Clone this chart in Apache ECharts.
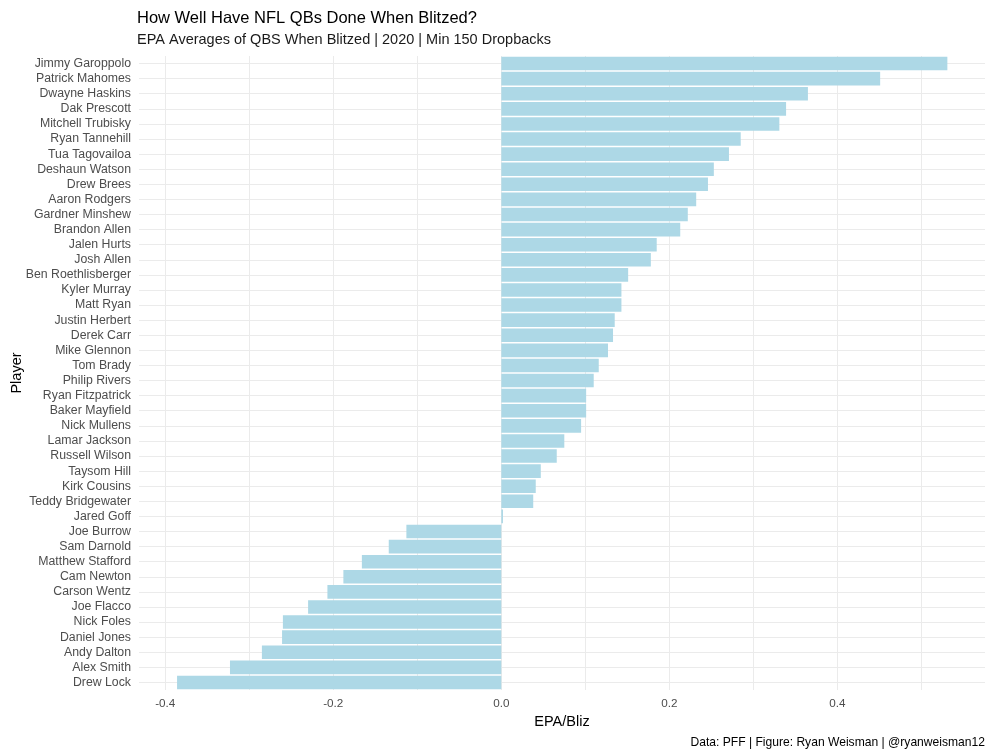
<!DOCTYPE html>
<html>
<head>
<meta charset="utf-8">
<script src="https://cdn.jsdelivr.net/npm/echarts@6/dist/echarts.min.js"></script>
<style>
html,body{margin:0;padding:0;background:#fff;}
#chart{width:993px;height:756px;}
</style>
</head>
<body>
<div id="chart"></div>
<script>
// Players listed bottom (lowest) to top (highest)
const players = [
  "Drew Lock","Alex Smith","Andy Dalton","Daniel Jones","Nick Foles","Joe Flacco",
  "Carson Wentz","Cam Newton","Matthew Stafford","Sam Darnold","Joe Burrow","Jared Goff",
  "Teddy Bridgewater","Kirk Cousins","Taysom Hill","Russell Wilson","Lamar Jackson",
  "Nick Mullens","Baker Mayfield","Ryan Fitzpatrick","Philip Rivers","Tom Brady",
  "Mike Glennon","Derek Carr","Justin Herbert","Matt Ryan","Kyler Murray",
  "Ben Roethlisberger","Josh Allen","Jalen Hurts","Brandon Allen","Gardner Minshew",
  "Aaron Rodgers","Drew Brees","Deshaun Watson","Tua Tagovailoa","Ryan Tannehill",
  "Mitchell Trubisky","Dak Prescott","Dwayne Haskins","Patrick Mahomes","Jimmy Garoppolo"
];
const epaPerBlitz = [
  -0.386,-0.323,-0.285,-0.261,-0.260,-0.230,
  -0.207,-0.188,-0.166,-0.134,-0.113,0.002,
  0.038,0.041,0.047,0.066,0.075,
  0.095,0.101,0.101,0.110,0.116,
  0.127,0.133,0.135,0.143,0.143,
  0.151,0.178,0.185,0.213,0.222,
  0.232,0.246,0.253,0.271,0.285,
  0.331,0.339,0.365,0.451,0.531
];
const xTickValues = [-0.4,-0.2,0.0,0.2,0.4];
const xGridValues = [-0.4,-0.3,-0.2,-0.1,0.0,0.1,0.2,0.3,0.4,0.5];
const xMin = -0.4313, xMax = 0.5758;

const gridColor = '#ebebeb';
const fontFam = 'Liberation Sans, Arial, sans-serif';
const chart = echarts.init(document.getElementById('chart'), null, {renderer:'canvas'});
chart.setOption({
  animation:false,
  backgroundColor:'#ffffff',
  textStyle:{fontFamily:fontFam},
  title:[
    {text:'How Well Have NFL QBs Done When Blitzed?', left:137, top:10, padding:0,
     textStyle:{fontSize:16.5, fontWeight:'normal', color:'#000000', fontFamily:fontFam}},
    {text:'EPA Averages of QBS When Blitzed | 2020 | Min 150 Dropbacks', left:137, top:32, padding:0,
     textStyle:{fontSize:14.5, fontWeight:'normal', color:'#1a1a1a', fontFamily:fontFam}},
    {text:'Data: PFF | Figure: Ryan Weisman | @ryanweisman12', right:8, bottom:7, padding:0,
     textStyle:{fontSize:12.1, fontWeight:'normal', color:'#000000', fontFamily:fontFam}}
  ],
  grid:{left:139, right:8, top:56, bottom:66, containLabel:false, outerBoundsMode:'none'},
  xAxis:{
    type:'value', min:xMin, max:xMax,
    name:'EPA/Bliz', nameLocation:'middle', nameGap:24, nameMoveOverlap:false,
    nameTextStyle:{fontSize:14.5, color:'#000000', fontFamily:fontFam},
    axisLine:{show:false}, axisTick:{show:false}, splitLine:{show:false},
    axisLabel:{customValues:xTickValues, fontSize:11.7, color:'#4d4d4d', margin:8,
      formatter:(v)=>Number(v).toFixed(1)}
  },
  yAxis:{
    type:'category', data:players,
    name:'Player', nameLocation:'middle', nameGap:115, nameRotate:90, nameMoveOverlap:false,
    nameTextStyle:{fontSize:14.5, color:'#000000', fontFamily:fontFam},
    axisLine:{show:false}, axisTick:{show:false}, splitLine:{show:false},
    axisLabel:{fontSize:12.3, color:'#4d4d4d', margin:8, interval:0}
  },
  series:[
    {
      type:'line', data:[], silent:true, z:0,
      markLine:{
        silent:true, symbol:['none','none'], animation:false, z:0,
        label:{show:false},
        lineStyle:{color:gridColor, width:1, type:'solid'},
        emphasis:{disabled:true},
        data: xGridValues.map(v=>({xAxis:v})).concat(players.map(p=>({yAxis:p})))
      }
    },
    {
      type:'bar', data:epaPerBlitz, z:2,
      barCategoryGap:'10%',
      itemStyle:{color:'#add8e6'},
      emphasis:{disabled:true}
    }
  ]
});
</script>
</body>
</html>
